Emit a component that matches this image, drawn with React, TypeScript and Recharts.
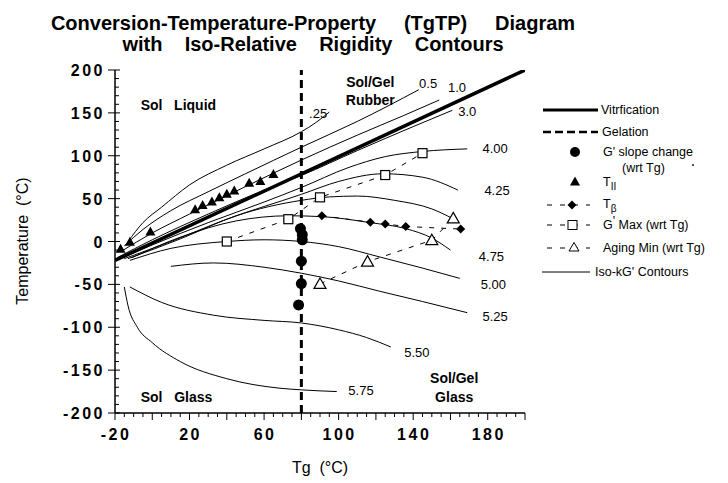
import React from 'react'
import {
  ComposedChart,
  Line,
  Scatter,
  XAxis,
  YAxis,
  ReferenceLine,
  ReferenceDot,
  Legend,
} from 'recharts'

type Pt = { x: number; y: number }

const FONT = '"Liberation Sans", Arial, Helvetica, sans-serif'

// axis ticks
const xLabelTicks = [-20, 20, 60, 100, 140, 180]
const steps = (from: number, to: number, step: number) => {
  const out: number[] = []
  for (let v = from; v <= to; v += step) out.push(v)
  return out
}
const xMinorTicks = steps(-20, 200, 5)
const yMinorTicks = steps(-200, 200, 10)

// vitrification line and gelation
const vitrification: Pt[] = [
  { x: -20, y: -22 },
  { x: 200, y: 200 },
]
const gelationTg = 80

// iso-kG' contours
const c025: Pt[] = [
  { x: -13, y: 0 }, { x: -5, y: 22 }, { x: 5, y: 40 }, { x: 20, y: 66 }, { x: 40, y: 89 },
  { x: 60, y: 108 }, { x: 80, y: 128 }, { x: 88, y: 139 }, { x: 95, y: 151 },
]
const c05: Pt[] = [
  { x: -15, y: -5 }, { x: -5, y: 14 }, { x: 10, y: 36 }, { x: 30, y: 58 }, { x: 50, y: 79 },
  { x: 80, y: 110 }, { x: 110, y: 140 }, { x: 143, y: 177 },
]
const c10: Pt[] = [
  { x: -17, y: -12 }, { x: 0, y: 10 }, { x: 20, y: 32 }, { x: 50, y: 64 }, { x: 80, y: 95 },
  { x: 110, y: 124 }, { x: 135, y: 147 }, { x: 154, y: 165 },
]
const c30: Pt[] = [
  { x: -19, y: -19 }, { x: 0, y: 2 }, { x: 30, y: 32 }, { x: 60, y: 60 }, { x: 80, y: 77 },
  { x: 110, y: 106 }, { x: 140, y: 134 }, { x: 161, y: 153 },
]
const c400: Pt[] = [
  { x: -17, y: -20 }, { x: 0, y: -4 }, { x: 30, y: 22 }, { x: 60, y: 46 }, { x: 80, y: 63 },
  { x: 105, y: 86 }, { x: 125, y: 99 }, { x: 145, y: 105 }, { x: 169, y: 108 },
]
const c425: Pt[] = [
  { x: -15, y: -20 }, { x: 10, y: 0 }, { x: 40, y: 26 }, { x: 80, y: 55 }, { x: 100, y: 70 },
  { x: 124, y: 79 }, { x: 145, y: 75 }, { x: 164, y: 60 },
]
const c450: Pt[] = [
  { x: -13, y: -20 }, { x: 15, y: 3 }, { x: 45, y: 30 }, { x: 80, y: 48 }, { x: 95, y: 52 },
  { x: 110, y: 53 }, { x: 130, y: 48 }, { x: 150, y: 38 }, { x: 161, y: 27 },
]
const c475: Pt[] = [
  { x: -11, y: -19 }, { x: 15, y: 5 }, { x: 45, y: 24 }, { x: 73, y: 30 }, { x: 91, y: 29 },
  { x: 117, y: 22 }, { x: 136, y: 15 }, { x: 150, y: 4 }, { x: 160, y: -10 },
]
const c500: Pt[] = [
  { x: -12, y: -22 }, { x: 10, y: -8 }, { x: 40, y: 0 }, { x: 60, y: 2 }, { x: 80, y: 0 },
  { x: 100, y: -6 }, { x: 122, y: -18 }, { x: 145, y: -31 }, { x: 165, y: -43 },
]
const c525: Pt[] = [
  { x: 10, y: -29 }, { x: 33, y: -25 }, { x: 60, y: -30 }, { x: 80, y: -37 }, { x: 100, y: -46 },
  { x: 122, y: -58 }, { x: 145, y: -70 }, { x: 169, y: -83 },
]
const c550: Pt[] = [
  { x: -12, y: -53 }, { x: 5, y: -71 }, { x: 33, y: -86 }, { x: 60, y: -92 }, { x: 80, y: -95 },
  { x: 100, y: -103 }, { x: 115, y: -112 }, { x: 128, y: -123 },
]
const c575: Pt[] = [
  { x: -15, y: -53 }, { x: -13, y: -75 }, { x: -8, y: -100 }, { x: 0, y: -118 }, { x: 15, y: -140 },
  { x: 40, y: -160 }, { x: 68, y: -171 }, { x: 80, y: -173 }, { x: 99, y: -175 },
]
const contours = [c025, c05, c10, c30, c400, c425, c450, c475, c500, c525, c550, c575]

const contourLabels = [
  { text: '.25', x: 89, y: 149 },
  { text: '0.5', x: 148, y: 184 },
  { text: '1.0', x: 163.5, y: 180 },
  { text: '3.0', x: 169, y: 152 },
  { text: '4.00', x: 184, y: 109 },
  { text: '4.25', x: 185, y: 60 },
  { text: '4.75', x: 182, y: -17 },
  { text: '5.00', x: 183, y: -50 },
  { text: '5.25', x: 184, y: -87 },
  { text: '5.50', x: 142, y: -129 },
  { text: '5.75', x: 112, y: -174 },
]

const regionLabels = [
  { text: 'Sol\u00A0\u00A0\u00A0Liquid', x: 14, y: 159 },
  { text: 'Sol/Gel', x: 117, y: 186 },
  { text: 'Rubber', x: 117, y: 165 },
  { text: 'Sol\u00A0\u00A0\u00A0Glass', x: 13, y: -181 },
  { text: 'Sol/Gel', x: 162, y: -159 },
  { text: 'Glass', x: 162, y: -181 },
]

// measured points
const tII: Pt[] = [
  { x: -17, y: -9 }, { x: -12, y: -1 }, { x: -1, y: 11 }, { x: 23, y: 37 }, { x: 27, y: 42 },
  { x: 32, y: 46 }, { x: 36, y: 51 }, { x: 40, y: 55 }, { x: 44, y: 59 }, { x: 52, y: 68 },
  { x: 58, y: 70 }, { x: 65, y: 78 },
]
const slopeChange: Pt[] = [
  { x: 79.5, y: 15 }, { x: 80.5, y: 8 }, { x: 80.5, y: 2 }, { x: 80, y: -23 }, { x: 80, y: -49 },
  { x: 78.5, y: -74 },
]
const tBeta: Pt[] = [
  { x: 91, y: 30 }, { x: 117, y: 22.5 }, { x: 125, y: 20.5 }, { x: 136, y: 17.5 }, { x: 165.5, y: 14.5 },
]
const gMax: Pt[] = [
  { x: 40, y: 0 }, { x: 73, y: 26 }, { x: 90, y: 51.5 }, { x: 125, y: 77.5 }, { x: 145, y: 103 },
]
const agingMin: Pt[] = [
  { x: 90, y: -49.5 }, { x: 115.5, y: -23.5 }, { x: 150, y: 1.5 }, { x: 161.5, y: 27 },
]

const FilledTriangle = ({ cx, cy }: any) => (
  <path d={`M${cx},${cy - 5.5}L${cx + 5},${cy + 3.5}L${cx - 5},${cy + 3.5}Z`} fill="#000" />
)
const OpenTriangle = ({ cx, cy }: any) => (
  <path
    d={`M${cx},${cy - 6}L${cx + 6},${cy + 4.5}L${cx - 6},${cy + 4.5}Z`}
    fill="#fff"
    stroke="#000"
    strokeWidth={1.2}
  />
)
const OpenSquare = ({ cx, cy }: any) => (
  <rect x={cx - 4.5} y={cy - 4.5} width={9} height={9} fill="#fff" stroke="#000" strokeWidth={1.2} />
)
const Diamond = ({ cx, cy }: any) => (
  <path d={`M${cx},${cy - 4.5}L${cx + 4.5},${cy}L${cx},${cy + 4.5}L${cx - 4.5},${cy}Z`} fill="#000" />
)
const Dot = ({ cx, cy }: any) => <circle cx={cx} cy={cy} r={5.5} fill="#000" />

const tickText = {
  fontSize: 16,
  fontWeight: 'bold' as const,
  fontFamily: FONT,
  fill: '#000',
  letterSpacing: 2.5,
}

const BottomTick = ({ x, y, payload }: any) => {
  const v = payload.value
  const major = v % 20 === 0
  return (
    <g>
      <line x1={x} x2={x} y1={y} y2={y + (major ? 7 : 4)} stroke="#000" strokeWidth={1} />
      {xLabelTicks.includes(v) && (
        <text x={x + 1} y={y + 27} textAnchor="middle" {...tickText}>
          {v}
        </text>
      )}
    </g>
  )
}
const TopTick = ({ x, y, payload }: any) => {
  const major = payload.value % 20 === 0
  return <line x1={x} x2={x} y1={y} y2={y - (major ? 7 : 4)} stroke="#000" strokeWidth={1} />
}
const LeftTick = ({ x, y, payload }: any) => {
  const v = payload.value
  const major = v % 50 === 0
  return (
    <g>
      <line x1={major ? x - 7 : x} x2={x + (major ? 5 : 4)} y1={y} y2={y} stroke="#000" strokeWidth={1} />
      {major && (
        <text x={x - 10} y={y + 6} textAnchor="end" {...tickText}>
          {v}
        </text>
      )}
    </g>
  )
}
const RightTick = ({ x, y, payload }: any) => {
  const major = payload.value % 50 === 0
  return (
    <line x1={major ? x - 6 : x} x2={x + (major ? 7 : 4)} y1={y} y2={y} stroke="#000" strokeWidth={1} />
  )
}

const legendText = { fontSize: 12.5, fontFamily: FONT, fill: '#000' }

const renderLegend = () => (
  <svg width={188} height={190} style={{ display: 'block' }}>
    <line x1={3} x2={58} y1={15} y2={15} stroke="#000" strokeWidth={3} />
    <text x={61} y={19} {...legendText}>Vitrfication</text>

    <line x1={3} x2={58} y1={37} y2={37} stroke="#000" strokeWidth={2.5} strokeDasharray="8 4" />
    <text x={62} y={41} {...legendText}>Gelation</text>

    <circle cx={35} cy={57} r={5} fill="#000" />
    <text x={63} y={61} {...legendText}>G' slope change</text>
    <text x={82} y={77} {...legendText}>(wrt Tg)</text>
    <circle cx={153} cy={70} r={0.9} fill="#000" />

    <path d="M35,81.5L40,90.5L30,90.5Z" fill="#000" />
    <text x={63} y={91} {...legendText}>
      T<tspan dy={4} fontSize={10}>II</tspan>
    </text>

    <line x1={7} x2={50} y1={110} y2={110} stroke="#000" strokeDasharray="5 8" />
    <path d="M32,105.5L36.5,110L32,114.5L27.5,110Z" fill="#000" />
    <text x={63} y={113} {...legendText}>
      T<tspan dy={4} fontSize={10}>β</tspan>
    </text>

    <line x1={7} x2={50} y1={130} y2={130} stroke="#000" strokeDasharray="5 8" />
    <rect x={28} y={125.5} width={9} height={9} fill="#fff" stroke="#000" />
    <text x={63} y={134} {...legendText}>
      G<tspan dy={-4}>'</tspan>
      <tspan dy={4}> Max (wrt Tg)</tspan>
    </text>

    <line x1={7} x2={50} y1={153} y2={153} stroke="#000" strokeDasharray="5 8" />
    <path d="M34,147.5L39,156L29,156Z" fill="#fff" stroke="#000" />
    <text x={63} y={157} {...legendText}>Aging Min (wrt Tg)</text>

    <line x1={2} x2={50} y1={177} y2={177} stroke="#000" strokeWidth={1} />
    <text x={55} y={181} {...legendText}>Iso-kG' Contours</text>
  </svg>
)

export default function App() {
  return (
    <div
      style={{
        position: 'absolute',
        left: 0,
        top: 0,
        width: 728,
        height: 483,
        background: '#fff',
        fontFamily: FONT,
      }}
    >
      <div
        style={{
          position: 'absolute',
          left: 0,
          width: 626,
          top: 13,
          textAlign: 'center',
          fontSize: 20,
          fontWeight: 'bold',
          lineHeight: '21px',
          whiteSpace: 'pre',
        }}
      >
        {'Conversion-Temperature-Property     (TgTP)     Diagram\nwith    Iso-Relative    Rigidity    Contours'}
      </div>
      <div
        style={{
          position: 'absolute',
          left: 23,
          top: 241,
          transform: 'translate(-50%, -50%) rotate(-90deg)',
          fontSize: 16,
          whiteSpace: 'pre',
        }}
      >
        {'Temperature  (°C)'}
      </div>
      <div
        style={{
          position: 'absolute',
          left: 320,
          top: 468,
          transform: 'translate(-50%, -50%)',
          fontSize: 16,
          whiteSpace: 'pre',
        }}
      >
        {'Tg  (°C)'}
      </div>

      <ComposedChart
        width={728}
        height={483}
        margin={{ top: 70, right: 203, bottom: 30, left: 0 }}
        style={{ position: 'absolute', left: 0, top: 0 }}
      >
        <XAxis
          xAxisId="b"
          dataKey="x"
          type="number"
          domain={[-20, 200]}
          ticks={xMinorTicks}
          interval={0}
          tickSize={0}
          tickMargin={0}
          tickLine={false}
          tick={<BottomTick />}
          height={40}
          axisLine={{ stroke: '#000', strokeWidth: 1.5 }}
          allowDataOverflow
        />
        <XAxis
          xAxisId="t"
          orientation="top"
          dataKey="x"
          type="number"
          domain={[-20, 200]}
          ticks={xMinorTicks}
          interval={0}
          tickSize={0}
          tickMargin={0}
          tickLine={false}
          tick={<TopTick />}
          height={0}
          axisLine={{ stroke: '#000', strokeWidth: 1.5 }}
          allowDataOverflow
        />
        <YAxis
          yAxisId="l"
          type="number"
          domain={[-200, 200]}
          ticks={yMinorTicks}
          interval={0}
          tickSize={0}
          tickMargin={0}
          tickLine={false}
          tick={<LeftTick />}
          width={115}
          axisLine={{ stroke: '#000', strokeWidth: 1.5 }}
          allowDataOverflow
        />
        <YAxis
          yAxisId="r"
          orientation="right"
          type="number"
          domain={[-200, 200]}
          ticks={yMinorTicks}
          interval={0}
          tickSize={0}
          tickMargin={0}
          tickLine={false}
          tick={<RightTick />}
          width={0}
          axisLine={{ stroke: '#000', strokeWidth: 1.5 }}
          allowDataOverflow
        />

        {contours.map((c, i) => (
          <Line
            key={i}
            xAxisId="b"
            yAxisId="l"
            data={c}
            dataKey="y"
            type="monotone"
            stroke="#000"
            strokeWidth={1}
            dot={false}
            activeDot={false}
            isAnimationActive={false}
          />
        ))}
        <Line
          xAxisId="t"
          yAxisId="r"
          data={vitrification}
          dataKey="y"
          type="linear"
          stroke="#000"
          strokeWidth={3.5}
          dot={false}
          activeDot={false}
          isAnimationActive={false}
        />
        <ReferenceLine
          xAxisId="b"
          yAxisId="l"
          x={gelationTg}
          stroke="#000"
          strokeWidth={3}
          strokeDasharray="8 5"
        />

        <Scatter
          xAxisId="b"
          yAxisId="l"
          data={tBeta}
          dataKey="y"
          shape={<Diamond />}
          line={{ stroke: '#000', strokeWidth: 1, strokeDasharray: '5 7' }}
          lineType="joint"
          isAnimationActive={false}
        />
        <Scatter
          xAxisId="b"
          yAxisId="l"
          data={gMax}
          dataKey="y"
          shape={<OpenSquare />}
          line={{ stroke: '#000', strokeWidth: 1, strokeDasharray: '5 7' }}
          lineType="joint"
          isAnimationActive={false}
        />
        <Scatter
          xAxisId="b"
          yAxisId="l"
          data={agingMin}
          dataKey="y"
          shape={<OpenTriangle />}
          line={{ stroke: '#000', strokeWidth: 1, strokeDasharray: '5 7' }}
          lineType="joint"
          isAnimationActive={false}
        />
        <Scatter xAxisId="b" yAxisId="l" data={tII} dataKey="y" shape={<FilledTriangle />} isAnimationActive={false} />
        <Scatter xAxisId="b" yAxisId="l" data={slopeChange} dataKey="y" shape={<Dot />} isAnimationActive={false} />

        {contourLabels.map((l) => (
          <ReferenceDot
            key={l.text}
            xAxisId="b"
            yAxisId="l"
            x={l.x}
            y={l.y}
            r={0}
            stroke="none"
            fill="none"
            label={{ value: l.text, position: 'center', fontSize: 13, fontFamily: FONT, fill: '#000' }}
          />
        ))}
        {regionLabels.map((l, i) => (
          <ReferenceDot
            key={'r' + i}
            xAxisId="b"
            yAxisId="l"
            x={l.x}
            y={l.y}
            r={0}
            stroke="none"
            fill="none"
            label={{
              value: l.text,
              position: 'center',
              fontSize: 14,
              fontWeight: 'bold',
              fontFamily: FONT,
              fill: '#000',
            }}
          />
        ))}

        <Legend
          layout="horizontal"
          verticalAlign="middle"
          align="center"
          content={renderLegend}
          wrapperStyle={{ left: 540, top: 95, width: 188, height: 190 }}
        />
      </ComposedChart>
    </div>
  )
}
